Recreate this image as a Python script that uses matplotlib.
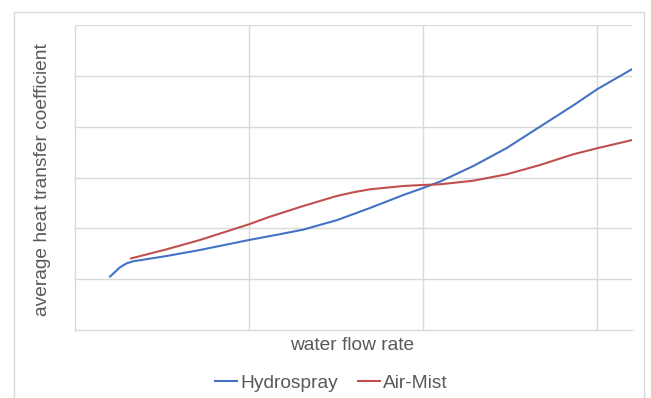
import matplotlib
matplotlib.use("Agg")
import matplotlib.pyplot as plt
from matplotlib.patches import Rectangle

plt.rcParams['font.family'] = ['Liberation Sans', 'DejaVu Sans']

hydro_x = [0.199, 0.260, 0.299, 0.337, 0.529, 0.720, 1.002, 1.180, 1.314, 1.506, 1.697,
           1.889, 2.003, 2.099, 2.291, 2.483, 2.674, 2.866, 3.002, 3.205]
hydro_y = [1.037, 1.233, 1.312, 1.352, 1.456, 1.574, 1.771, 1.885, 1.975, 2.160, 2.400,
           2.656, 2.794, 2.918, 3.226, 3.580, 4.000, 4.420, 4.735, 5.135]

mist_x = [0.318, 0.529, 0.720, 1.002, 1.122, 1.314, 1.506, 1.601, 1.697, 1.889, 2.003,
          2.099, 2.291, 2.483, 2.674, 2.866, 3.002, 3.205]
mist_y = [1.403, 1.588, 1.771, 2.080, 2.229, 2.440, 2.636, 2.709, 2.768, 2.833, 2.853,
          2.866, 2.937, 3.063, 3.246, 3.457, 3.575, 3.738]

series_names = ["Hydrospray", "Air-Mist"]
colors = ["#4472C4", "#C0504D"]

W, H = 651, 398
fig = plt.figure(figsize=(W / 100, H / 100), dpi=100)

# outer chart border
fig.patches.append(Rectangle((13.5 / W, -0.01), (644 - 13.5) / W, 1.01 - 11.7 / H,
                             transform=fig.transFigure, fill=False,
                             edgecolor="#D9D9D9", linewidth=1.0))

ax = fig.add_axes([74.7 / W, 1 - 330 / H, (631.7 - 74.7) / W, (330 - 25) / H])
ax.plot(hydro_x, hydro_y, color=colors[0], lw=1.5, label=series_names[0],
        solid_joinstyle="round", solid_capstyle="butt")
ax.plot(mist_x, mist_y, color=colors[1], lw=1.5, label=series_names[1],
        solid_joinstyle="round", solid_capstyle="butt")

ax.set_xlim(0, (631.7 - 74.7) / 174)
ax.set_ylim(0, 6)
ax.set_xticks([1, 2, 3])
ax.set_yticks([1, 2, 3, 4, 5, 6])
ax.grid(True, color="#D9D9D9", lw=1.0)
ax.set_axisbelow(True)
ax.tick_params(length=0, labelbottom=False, labelleft=False)
for s in ["top", "right"]:
    ax.spines[s].set_visible(False)
for s in ["left", "bottom"]:
    ax.spines[s].set_color("#D9D9D9")
    ax.spines[s].set_linewidth(1.0)

fig.text(352 / W, 1 - 345 / H, "water flow rate", ha="center", va="center",
         fontsize=13.8, color="#595959")
fig.text(43 / W, 1 - 180 / H, "average heat transfer coefficient", ha="center",
         va="center", rotation=90, fontsize=13.8, color="#595959")

leg = fig.legend(loc="center", bbox_to_anchor=(331 / W, 1 - 383 / H), ncol=2,
                 frameon=False, fontsize=13.8, handlelength=1.25, handletextpad=0.12,
                 columnspacing=1.0, labelcolor="#595959")

fig.savefig("out.png", dpi=100, facecolor="white")
